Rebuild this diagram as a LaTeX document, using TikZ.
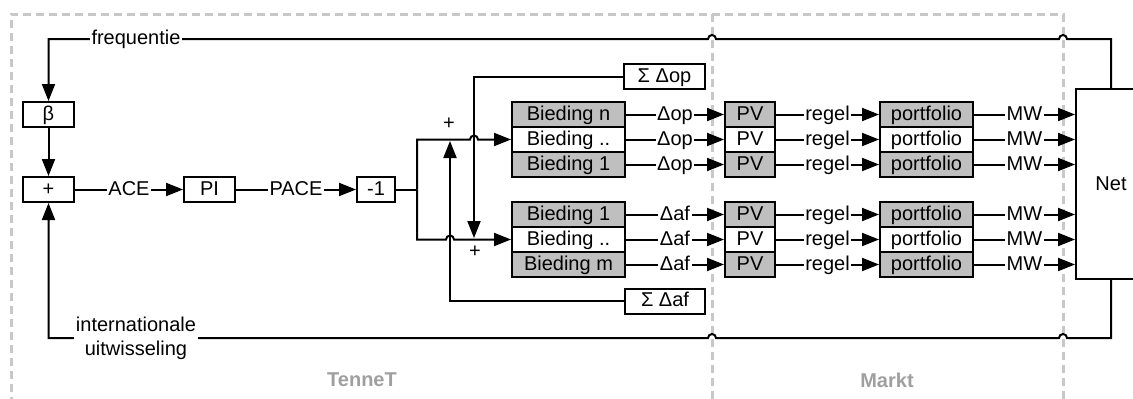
\documentclass[tikz,border=0pt]{standalone}
\usepackage{fontspec}
\setmainfont{Liberation Sans}
\usetikzlibrary{arrows.meta}

\begin{document}
\begin{tikzpicture}[x=1pt,y=1pt,>={Triangle[length=17pt,width=13pt]},
  line width=2pt,font=\fontsize{20}{24}\selectfont,
  blok/.style={draw,line width=2pt,minimum height=25pt,inner sep=0pt,
    text height=14pt,text depth=3pt},
  grijs/.style={fill=gray!50},
  wit/.style={fill=white},
  lbl/.style={fill=white,inner sep=1.5pt,text height=14pt,text depth=3pt},
  regio/.style={draw=gray!43,line width=3pt,dash pattern=on 8pt off 5pt},
  regiotekst/.style={text=gray!75,font=\fontsize{20}{24}\selectfont\bfseries}]
\useasboundingbox (0,0) rectangle (1133,-399);
\clip (0,0) rectangle (1133,-399);

% gebieden
\draw[regio] (11,-405) -- (11,-14) -- (1063,-14) -- (1063,-405);
\draw[regio] (712,-14) -- (712,-405);
\node[regiotekst] (tennet) at (362,-380) {TenneT};
\node[regiotekst] (markt) at (887,-380) {Markt};

% regelaar
\node[blok,minimum width=51pt] (beta) at (48.5,-114.5) {β};
\node[blok,minimum width=51pt] (plus) at (48.5,-189.5) {+};
\node[blok,minimum width=51pt] (pi) at (209.5,-189.5) {PI};
\node[blok,minimum width=38pt] (neg) at (376,-189.5) {-1};
\node[blok,minimum width=81pt] (sumop) at (664.5,-76.5) {Σ Δop};
\node[blok,minimum width=80pt] (sumaf) at (665,-301) {Σ Δaf};
\node[draw,minimum width=70pt,minimum height=190pt] (net) at (1111,-184) {Net};

\draw[->] (beta) -- (plus);
\draw[->] (plus) -- node[lbl]{ACE} (pi);
\draw[->] (pi) -- node[lbl]{PACE} (neg);

% biedingen
\foreach \y/\t/\d/\c [count=\i] in {114.5/Bieding n/op/grijs,139.5/Bieding ../op/wit,
    164.5/Bieding 1/op/grijs,214.5/Bieding 1/af/grijs,239.5/Bieding ../af/wit,
    264.5/Bieding m/af/grijs}{
  \node[blok,\c,minimum width=113pt] (bod\i) at (568.5,-\y) {\t};
  \node[blok,\c,minimum width=50pt] (pv\i) at (750,-\y) {PV};
  \node[blok,\c,minimum width=93pt] (port\i) at (926.5,-\y) {portfolio};
  \draw[->] (bod\i) -- node[lbl]{Δ\d} (pv\i);
  \draw[->] (pv\i) -- node[lbl]{regel} (port\i);
  \draw[->] (port\i) -- node[lbl]{MW} (port\i -| net.west);
}

% splitsing
\coordinate (split) at (417,-189.5);
\draw (neg) -- (split);
\draw[->] (split) |- (470,-139.5) arc[start angle=180,end angle=0,radius=4] -- (bod2);
\draw[->] (split) |- (446,-239.5) arc[start angle=180,end angle=0,radius=4] -- (bod5);
\draw[->] (sumop.west) -| (474,-238);
\draw[->] (sumaf.west) -| (450,-141);
\node (plusop) at (449,-124) {+};
\node (plusaf) at (475,-252) {+};

% terugkoppeling
\draw[->] (net.north) |- (1067,-39) arc[start angle=0,end angle=180,radius=4]
  -- (716,-39) arc[start angle=0,end angle=180,radius=4] -| (beta.north);
\node[lbl] (freq) at (136,-39) {frequentie};
\draw[->] (net.south) |- (1067,-338) arc[start angle=0,end angle=180,radius=4]
  -- (716,-338) arc[start angle=0,end angle=180,radius=4] -| (plus.south);
\node[fill=white,inner sep=1.5pt,align=center] (intl) at (136,-338) {internationale\\uitwisseling};
\end{tikzpicture}
\end{document}
